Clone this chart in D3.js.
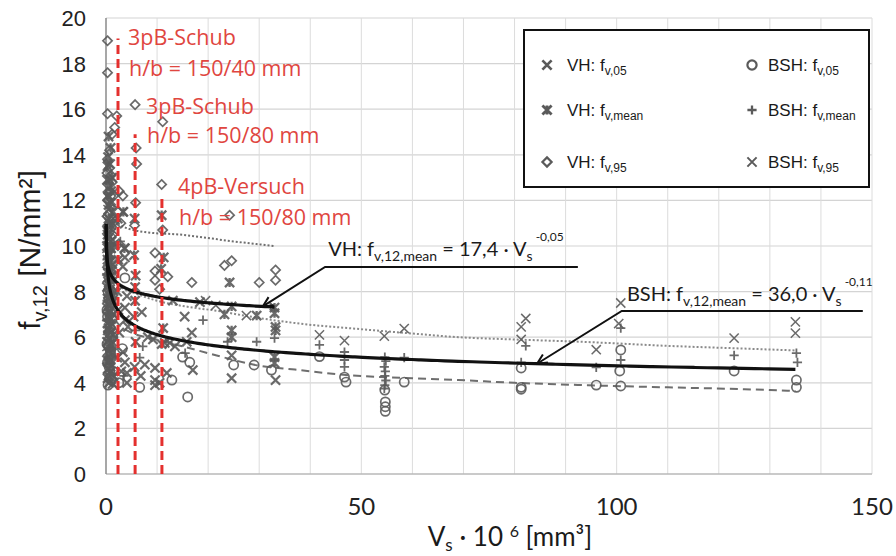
<!DOCTYPE html>
<html><head><meta charset="utf-8">
<script src="https://cdn.jsdelivr.net/npm/d3@7"></script>
<style>body{margin:0;background:#fff}svg{display:block}</style>
</head><body>
<svg id="chart" width="896" height="556"></svg>
<script>
// ---- tick values ----
const xTicks = [0, 50, 100, 150];
const yTicks = [0, 2, 4, 6, 8, 10, 12, 14, 16, 18, 20];
const xGrid = d3.range(0, 151, 10);

// ---- test results [V_s·10^6 mm³, f_v,12 N/mm²] ----
const vh95 = [[0.3,19.0],[0.3,17.6],[0.3,15.8],[2.1,15.7],[1.7,15.2],[1.2,14.9],[0.3,13.8],[0.6,13.4],[1.0,13.1],[0.4,12.7],[0.8,12.4],[1.5,12.2],[0.3,12.0],[1.1,11.7],[0.6,11.4],[1.8,11.1],[0.4,10.8],[1.3,10.5],[0.8,10.2],[2.6,12.4],[2.9,11.0],[3.3,12.2],[2.5,10.1],[0.5,9.8],
  [0.7,14.2],[0.2,13.2],[1.2,12.8],[0.5,12.3],[1.0,11.1],[0.2,11.3],[0.7,10.6],
  [5.7,16.2],[5.9,14.3],[6.0,13.6],[5.8,11.9],[5.6,10.9],
  [11.1,15.45],[10.9,12.7],[11.1,10.7],[9.6,9.7],[9.6,8.9],[9.6,8.5],[12.1,8.65],[10.5,8.1],
  [24.2,11.35],[23.2,9.15],[24.6,9.35],[16.8,8.4],[30.0,8.4],[33.2,8.95],[33.2,8.5]];
const vhMean = [[0.5,14.8],[0.9,14.3],[0.3,13.5],[1.2,13.0],[0.6,12.6],[0.3,12.2],[0.9,11.9],[1.4,11.5],[0.5,11.2],[1.0,10.9],[0.3,10.5],[1.6,10.0],[0.7,9.6],[1.2,9.2],[0.4,8.8],[1.5,8.5],[0.8,8.1],[0.3,7.7],[1.1,7.3],[0.6,6.9],[2.3,11.2],[2.4,9.4],[2.2,8.0],[3.4,11.5],[3.6,9.9],
  [0.4,13.9],[0.8,13.6],[0.2,12.9],[1.0,12.4],[0.5,11.8],[1.2,11.0],[0.2,10.0],[0.9,9.9],[0.4,9.3],[1.0,8.7],[0.5,8.3],[1.3,7.9],[0.2,7.3],[0.8,6.5],[0.4,6.1],[1.1,5.7],[0.6,5.3],[0.2,5.0],[0.9,4.7],[0.5,4.3],
  [5.6,11.2],[5.5,9.6],[5.8,8.7],[5.7,7.6],
  [10.9,11.35],[11.3,9.5],[10.8,9.0],[11.2,6.4],[10.9,5.7],
  [24.2,8.4],[23.2,7.0],[24.6,7.35],[33.0,7.3],[33.0,7.05],[33.2,6.45],[33.2,6.3],[24.6,6.3],[24.6,6.0],[33.0,5.13],[33.0,4.87],[29.5,6.95]];
const vh05 = [[0.4,10.3],[1.0,9.9],[0.3,9.4],[1.3,9.0],[0.6,8.6],[0.2,8.2],[1.0,7.8],[0.5,7.4],[1.4,7.0],[0.3,6.6],[0.8,6.2],[1.2,5.8],[0.4,5.4],[0.9,5.0],[0.3,4.6],[1.5,4.3],[0.6,4.0],
  [0.7,11.0],[0.2,10.7],[1.1,10.2],[0.6,9.7],[0.2,8.9],[0.9,8.3],[0.4,7.9],[1.2,7.5],[0.7,7.1],[0.2,6.9],[1.0,6.6],[0.5,6.4],[1.4,6.1],[0.2,5.8],[0.7,5.6],[1.2,5.3],[0.5,4.9],[1.0,4.5],[0.3,4.2],[1.3,3.95],
  [2.6,6.2],[2.2,5.1],[3.0,4.5],[2.4,7.2],[6.8,4.3],[7.6,4.8],[8.2,6.0],[7.0,7.1],
  [3.3,11.5],[3.7,9.9],[3.7,9.5],[3.3,9.1],[4.1,7.8],[3.7,7.3],[3.7,6.75],[4.3,6.45],[3.3,5.35],[3.7,4.9],[4.1,4.43],[4.1,4.0],
  [5.7,8.2],[5.4,6.9],[5.8,5.8],[5.6,4.7],
  [9.6,4.65],[9.6,4.12],[11.9,4.43],[9.2,5.9],[11.5,5.75],[12.5,5.75],[13.5,5.6],[13.1,7.6],[15.4,6.9],[18.4,7.54],[16.8,6.2],[15.8,5.8],[17.0,4.56],[24.6,4.2],[33.2,4.12],[24.6,5.2],[10.5,4.0],[9.6,3.9]];
const bsh95 = [[0.7,12.9],[0.4,11.6],[1.1,10.6],[0.2,9.9],[0.9,9.3],[0.5,8.4],[1.3,7.6],[0.7,7.1],[0.3,6.3],
  [1.0,12.0],[0.3,11.1],[0.8,10.2],[0.4,9.6],[1.2,8.9],[0.2,8.6],[0.9,7.9],[0.4,7.5],[1.1,6.8],[0.6,6.0],[0.2,5.6],
  [19.5,7.6],[21.5,7.4],[27.5,6.95],[41.8,6.1],[46.7,5.85],[54.5,6.05],[58.4,6.38],[81.3,6.45],[82.2,6.82],[81.3,5.9],[96.0,5.45],[100.8,7.5],[100.4,6.6],[123.0,5.96],[135.0,6.67],[135.0,6.18]];
const bshMean = [[0.5,10.0],[1.0,9.5],[0.3,9.0],[0.8,8.4],[1.3,7.9],[0.4,7.2],[0.9,6.6],[1.5,6.0],[0.6,5.5],[1.2,5.1],[0.3,4.8],[1.6,4.4],[2.8,10.2],[6.6,5.1],[5.8,6.3],
  [0.7,9.8],[0.2,9.4],[1.1,8.8],[0.5,8.2],[0.2,7.6],[1.0,7.0],[0.6,6.7],[0.3,6.2],[1.1,5.5],[0.5,5.0],[0.9,4.4],[3.5,4.3],[7.2,5.6],
  [19.0,6.75],[23.8,5.8],[29.5,5.8],[33.0,5.96],[15.5,5.3],[41.8,5.66],[46.7,5.35],[46.7,5.0],[46.7,4.7],[54.6,5.13],[54.8,4.95],[54.5,4.7],[54.7,4.5],[54.6,4.3],[54.8,4.1],[54.6,3.9],[54.5,3.75],[58.4,5.1],[82.2,5.62],[81.3,4.9],[96.0,4.68],[100.8,6.4],[100.8,5.0],[123.0,5.2],[135.2,5.3],[135.4,4.9]];
const bsh05 = [[0.4,8.0],[1.0,7.5],[0.3,6.9],[0.8,6.4],[1.3,6.0],[0.5,5.6],[1.0,5.2],[0.3,4.9],[1.4,4.5],[0.7,4.2],[0.4,3.9],[6.6,3.8],[3.7,8.6],
  [0.6,7.7],[0.2,7.2],[1.2,6.8],[0.6,6.2],[0.2,5.7],[0.9,5.4],[0.6,4.7],[1.1,4.1],[2.5,4.0],[3.2,5.5],
  [12.9,4.12],[15.0,5.13],[16.4,4.9],[16.0,3.38],[25.0,4.78],[29.0,4.78],[32.4,4.56],[41.8,5.15],[46.7,4.25],[47.0,4.03],[54.6,3.68],[54.7,3.16],[54.7,2.95],[54.7,2.75],[58.4,4.03],[81.3,4.65],[81.3,3.8],[81.3,3.72],[96.0,3.9],[100.8,5.44],[100.6,4.52],[100.8,3.86],[123.0,4.52],[135.2,4.12],[135.2,3.8]];

// ---- characteristic value lines ----
const vh95Line = [[0.2,12.3],[0.6,11.8],[1.5,11.3],[3.4,10.85],[8,10.6],[14.5,10.5],[25,10.2],[33,10.0]];
const bsh95Line = [[0.2,10.5],[0.6,9.5],[1.5,8.8],[3,8.2],[6,7.9],[10,7.6],[17,7.3],[22,7.15],[27,6.95],[37,6.62],[50,6.35],[59,6.18],[69,6.0],[80,5.9],[93,5.8],[110,5.62],[125,5.5],[135,5.42]];
const bsh05Line = [[0.3,8.4],[0.8,7.4],[2,6.7],[5,6.2],[9,5.95],[15,5.6],[20,5.3],[25,5.0],[30,4.75],[37,4.58],[47,4.34],[60,4.2],[69,4.12],[80,4.0],[93,3.9],[110,3.8],[125,3.72],[135,3.64]];

// ---- power-law fits f = a · V_s^b  (V_s in mm³) ----
const fitVH = {a: 17.4, b: -0.05, from: 0.01, to: 33};
const fitBSH = {a: 36.0, b: -0.11, from: 0.05, to: 135};

// ---- specimen configurations ----
const testSetups = [
  {v: 2.35, top: 19.1, lines: ["3pB-Schub", "h/b = 150/40 mm"]},
  {v: 5.7, top: 14.9, lines: ["3pB-Schub", "h/b = 150/80 mm"]},
  {v: 10.95, top: 12.15, lines: ["4pB-Versuch", "h/b = 150/80 mm"]}
];

const svg = d3.select("#chart");
const x = d3.scaleLinear().domain([0, 150]).range([106, 872]);
const y = d3.scaleLinear().domain([0, 20]).range([474, 18]);
const markColor = "#5a5a5a";

// grid
svg.append("g").selectAll("line").data(yTicks.filter(d => d > 0)).join("line")
  .attr("x1", x(0)).attr("x2", x(150)).attr("y1", d => y(d)).attr("y2", d => y(d))
  .attr("stroke", "#d4d4d4").attr("stroke-width", 1.2);
svg.append("g").selectAll("line").data(xGrid.filter(d => d > 0)).join("line")
  .attr("x1", d => x(d)).attr("x2", d => x(d)).attr("y1", y(0)).attr("y2", y(20))
  .attr("stroke", "#dcdcdc").attr("stroke-width", 1);
// axis lines
svg.append("line").attr("x1", x(0)).attr("x2", x(150)).attr("y1", y(0)).attr("y2", y(0))
  .attr("stroke", "#b8b8b8").attr("stroke-width", 1.5);
svg.append("line").attr("x1", x(0)).attr("x2", x(0)).attr("y1", y(0)).attr("y2", y(20))
  .attr("stroke", "#8a8a8a").attr("stroke-width", 1.5);

// tick labels
svg.append("g").selectAll("text").data(yTicks).join("text")
  .attr("x", 86).attr("y", d => y(d)).attr("dy", "0.36em").attr("text-anchor", "end")
  .attr("font-family", "Liberation Sans, Arial, sans-serif").attr("font-size", 22).attr("fill", "#222")
  .text(d => d);
svg.append("g").selectAll("text").data(xTicks).join("text")
  .attr("x", d => x(d)).attr("y", 515).attr("text-anchor", "middle")
  .attr("font-family", "Lato, sans-serif").attr("font-size", 24).attr("fill", "#222")
  .text(d => d);

// rich text helper (sub/superscripts)
function rich(g, px, py, parts, family, anchor) {
  const t = g.append("text").attr("x", px).attr("y", py).attr("font-family", family)
    .attr("text-anchor", anchor || "start").attr("fill", "#1a1a1a");
  let shift = 0;
  parts.forEach(p => {
    const dy = (p.dy || 0) - shift;
    shift = p.dy || 0;
    t.append("tspan").attr("dy", dy).attr("font-size", p.s).text(p.t);
  });
  return t;
}

// axis titles
rich(svg, 510, 546, [{t: "V", s: 26}, {t: "s", s: 17, dy: 5}, {t: " · 10 ", s: 26}, {t: "6", s: 16, dy: -9}, {t: " [mm³]", s: 26}], "Lato, sans-serif", "middle");
const yt = svg.append("g").attr("transform", "translate(40,250) rotate(-90)");
rich(yt, 0, 0, [{t: "f", s: 30}, {t: "v,12", s: 20, dy: 7}, {t: " [N/mm²]", s: 30}], "Liberation Sans, Arial, sans-serif", "middle");

// line generators
const line = d3.line().x(d => x(d[0])).y(d => y(d[1])).curve(d3.curveMonotoneX);
function fitPoints(f) {
  const lo = Math.log(f.from), hi = Math.log(f.to);
  return d3.range(0, 201).map(i => {
    const v = Math.exp(lo + (hi - lo) * i / 200);
    return [v, f.a * Math.pow(v * 1e6, f.b)];
  });
}

svg.append("path").attr("d", line(vh95Line)).attr("fill", "none")
  .attr("stroke", "#6f6f6f").attr("stroke-width", 2).attr("stroke-dasharray", "2,2");
svg.append("path").attr("d", line(bsh95Line)).attr("fill", "none")
  .attr("stroke", "#8a8a8a").attr("stroke-width", 2).attr("stroke-dasharray", "2,2");
svg.append("path").attr("d", line(bsh05Line)).attr("fill", "none")
  .attr("stroke", "#6e6e6e").attr("stroke-width", 2).attr("stroke-dasharray", "8,5");

// marker shapes
const S = 4.6;
const shapes = {
  cross: `M${-S},${-S}L${S},${S}M${-S},${S}L${S},${-S}`,
  star: `M${-S},${-S}L${S},${S}M${-S},${S}L${S},${-S}M0,${-S}L0,${S}`,
  diamond: `M0,${-S}L${S},0L0,${S}L${-S},0Z`,
  plus: `M${-S},0L${S},0M0,${-S}L0,${S}`,
  circle: `M${S},0A${S},${S},0,1,1,${-S},0A${S},${S},0,1,1,${S},0Z`
};
const series = [
  {name: "VH", sub: "v,05", data: vh05, shape: "cross", w: 2.2},
  {name: "VH", sub: "v,mean", data: vhMean, shape: "star", w: 2.3},
  {name: "VH", sub: "v,95", data: vh95, shape: "diamond", w: 1.7},
  {name: "BSH", sub: "v,05", data: bsh05, shape: "circle", w: 1.7},
  {name: "BSH", sub: "v,mean", data: bshMean, shape: "plus", w: 1.8},
  {name: "BSH", sub: "v,95", data: bsh95, shape: "cross", w: 1.5}
];
series.forEach(sr => {
  svg.append("g").selectAll("path").data(sr.data).join("path")
    .attr("transform", d => `translate(${x(d[0])},${y(d[1])})`)
    .attr("d", shapes[sr.shape]).attr("fill", "none")
    .attr("stroke", markColor).attr("stroke-width", sr.w).attr("opacity", 0.9);
});

// fitted curves
svg.append("path").attr("d", line(fitPoints(fitVH))).attr("fill", "none")
  .attr("stroke", "#111").attr("stroke-width", 3.2);
svg.append("path").attr("d", line(fitPoints(fitBSH))).attr("fill", "none")
  .attr("stroke", "#111").attr("stroke-width", 3.2);

// specimen configuration markers
const red = "#e4302e";
testSetups.forEach(s => {
  svg.append("line").attr("x1", x(s.v)).attr("x2", x(s.v)).attr("y1", y(0)).attr("y2", y(s.top))
    .attr("stroke", red).attr("stroke-width", 3).attr("stroke-dasharray", "9,5");
});
const lbl = svg.append("g").attr("font-family", "Open Sans, sans-serif").attr("font-size", 21.5).attr("fill", "#e0463f");
[[128, 45, 76], [146, 114, 143], [178, 194, 225]].forEach((p, i) => {
  lbl.append("text").attr("x", p[0]).attr("y", p[1]).text(testSetups[i].lines[0]);
  lbl.append("text").attr("x", p[0] + 1).attr("y", p[2]).text(testSetups[i].lines[1]);
});

// equation callouts
function callout(tip, elbow, end, textPos, parts) {
  const pts = [tip, elbow, end].map(d => [x(d[0]), y(d[1])]);
  svg.append("path").attr("d", d3.line()(pts)).attr("fill", "none").attr("stroke", "#111").attr("stroke-width", 2);
  const ang = Math.atan2(pts[1][1] - pts[0][1], pts[1][0] - pts[0][0]);
  const L = 11, spread = 0.45;
  const a1 = [pts[0][0] + L * Math.cos(ang + spread), pts[0][1] + L * Math.sin(ang + spread)];
  const a2 = [pts[0][0] + L * Math.cos(ang - spread), pts[0][1] + L * Math.sin(ang - spread)];
  svg.append("path").attr("d", d3.line()([a1, pts[0], a2])).attr("fill", "none").attr("stroke", "#111").attr("stroke-width", 2);
  rich(svg, x(textPos[0]), y(textPos[1]), parts, "Lato, sans-serif");
}
const vTip = 30.7, bTip = 84.4;
callout([vTip, fitVH.a * Math.pow(vTip * 1e6, fitVH.b)], [42.9, 9.08], [92.4, 9.08], [43.5, 9.55],
  [{t: "VH: f", s: 20}, {t: "v,12,mean", s: 14, dy: 5}, {t: " = 17,4 · V", s: 20}, {t: "s", s: 14, dy: 5}, {t: " -0,05", s: 12, dy: -15}]);
callout([bTip, fitBSH.a * Math.pow(bTip * 1e6, fitBSH.b)], [101.0, 7.15], [148.2, 7.15], [102.0, 7.6],
  [{t: "BSH: f", s: 20}, {t: "v,12,mean", s: 14, dy: 5}, {t: " = 36,0 · V", s: 20}, {t: "s", s: 14, dy: 5}, {t: " -0,11", s: 12, dy: -15}]);

// legend
const lg = svg.append("g");
lg.append("rect").attr("x", 524).attr("y", 30).attr("width", 345).attr("height", 157)
  .attr("fill", "#fff").attr("stroke", "#111").attr("stroke-width", 2);
series.forEach((sr, i) => {
  const col = Math.floor(i / 3), row = i % 3;
  const mx = col ? 752 : 547, ty = [66, 111, 163][row];
  lg.append("path").attr("transform", `translate(${mx},${ty - 1})`).attr("d", shapes[sr.shape])
    .attr("fill", "none").attr("stroke", markColor).attr("stroke-width", sr.w + 0.5);
  rich(lg, mx + (col ? 16 : 20), ty + 5, [{t: sr.name + ": f", s: 17}, {t: sr.sub, s: 12, dy: 4}], "Liberation Sans, Arial, sans-serif");
});
</script>
</body></html>
